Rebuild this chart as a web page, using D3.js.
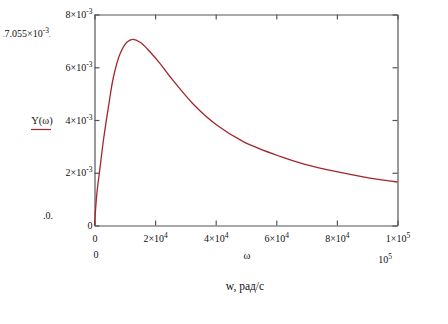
<!DOCTYPE html>
<html>
<head>
<meta charset="utf-8">
<script src="https://cdn.jsdelivr.net/npm/d3@7"></script>
<style>
  body { margin: 0; background: #fff; }
  svg text { font-family: "Liberation Serif", "Times New Roman", serif; fill: #111; }
</style>
</head>
<body>
<script>
// values: omega (rad/s) and Y(omega)
const omega = [0, 800, 1880, 2970, 4610, 6260, 8470, 10680, 12660, 15060, 18360, 21660,
  24950, 32630, 40340, 49110, 61210, 68890, 79890, 90870, 100000];
const yValues = [0, 1.23e-3, 2.24e-3, 3.25e-3, 4.50e-3, 5.63e-3, 6.52e-3, 6.95e-3, 7.055e-3,
  6.95e-3, 6.58e-3, 6.14e-3, 5.64e-3, 4.60e-3, 3.81e-3, 3.18e-3, 2.62e-3, 2.34e-3,
  2.04e-3, 1.80e-3, 1.65e-3];

const xTicks = [0, 2e4, 4e4, 6e4, 8e4, 1e5];
const xTickLabels = [["0", ""], ["2×10", "4"], ["4×10", "4"], ["6×10", "4"], ["8×10", "4"], ["1×10", "5"]];
const yTicks = [0, 2e-3, 4e-3, 6e-3, 8e-3];
const yTickLabels = [["0", ""], ["2×10", "-3"], ["4×10", "-3"], ["6×10", "-3"], ["8×10", "-3"]];

const width = 448, height = 324;
const marginLeft = 94.5, marginRight = 50.5, marginTop = 14.5, marginBottom = 98.5;

const data = omega.map((w, i) => ({w: w, y: yValues[i]}));

const x = d3.scaleLinear()
    .domain([0, 1e5])
    .range([marginLeft, width - marginRight]);

const y = d3.scaleLinear()
    .domain([0, 8e-3])
    .range([height - marginBottom, marginTop]);

const svg = d3.select("body").append("svg")
    .attr("width", width)
    .attr("height", height);

// put "mantissa×10" + superscript into a tick label
function supLabel(sel, labels) {
  sel.each(function(d, i) {
    const t = d3.select(this).text(null);
    t.append("tspan").text(labels[i][0]);
    if (labels[i][1]) {
      t.append("tspan").attr("dy", -4).attr("font-size", 7.5).text(labels[i][1]);
    }
  });
}

function styleAxis(g) {
  g.attr("font-family", null);
  g.select(".domain").attr("stroke", "#555").attr("stroke-width", 1.2);
  g.selectAll(".tick line").attr("stroke", "#555").attr("stroke-width", 1.2);
  g.selectAll("text").attr("font-size", 10).attr("fill", "#111");
}

// bottom
const gx = svg.append("g")
    .attr("transform", `translate(0,${height - marginBottom})`)
    .call(d3.axisBottom(x).tickValues(xTicks).tickSizeInner(-5).tickSizeOuter(0).tickPadding(9))
    .call(styleAxis);
gx.selectAll(".tick text").call(supLabel, xTickLabels);

// top
svg.append("g")
    .attr("transform", `translate(0,${marginTop})`)
    .call(d3.axisTop(x).tickValues(xTicks).tickSizeInner(-5).tickSizeOuter(0).tickFormat(""))
    .call(styleAxis);

// left
const gy = svg.append("g")
    .attr("transform", `translate(${marginLeft},0)`)
    .call(d3.axisLeft(y).tickValues(yTicks).tickSizeInner(-5).tickSizeOuter(0).tickPadding(2))
    .call(styleAxis);
gy.selectAll(".tick text").call(supLabel, yTickLabels);

// right
svg.append("g")
    .attr("transform", `translate(${width - marginRight},0)`)
    .call(d3.axisRight(y).tickValues(yTicks).tickSizeInner(-5).tickSizeOuter(0).tickFormat(""))
    .call(styleAxis);

// curve
svg.append("path")
    .datum(data)
    .attr("fill", "none")
    .attr("stroke", "#a3262e")
    .attr("stroke-width", 1.3)
    .attr("d", d3.line()
        .x(d => x(d.w))
        .y(d => y(d.y))
        .curve(d3.curveCatmullRom.alpha(0.5)));

// left-side labels (max value, legend, min value)
const maxLbl = svg.append("text").attr("x", 3).attr("y", 37).attr("font-size", 10);
maxLbl.append("tspan").attr("font-size", 6).text(".");
maxLbl.append("tspan").text("7.055×10");
maxLbl.append("tspan").attr("dy", -4).attr("font-size", 7.5).text("-3");
maxLbl.append("tspan").attr("dy", 4).attr("font-size", 6).text(".");

svg.append("text")
    .attr("x", 42).attr("y", 124)
    .attr("text-anchor", "middle")
    .attr("font-size", 10.5)
    .text("Y(ω)");
svg.append("line")
    .attr("x1", 31).attr("x2", 51)
    .attr("y1", 129.5).attr("y2", 129.5)
    .attr("stroke", "#a3262e").attr("stroke-width", 1.2);

svg.append("text")
    .attr("x", 48).attr("y", 219)
    .attr("text-anchor", "middle")
    .attr("font-size", 10)
    .text(".0.");

// x range labels under the axis
svg.append("text").attr("x", 96).attr("y", 258).attr("text-anchor", "middle").attr("font-size", 10).text("0");
svg.append("text").attr("x", 247).attr("y", 259).attr("text-anchor", "middle").attr("font-size", 10.5).text("ω");
const maxX = svg.append("text").attr("x", 385).attr("y", 263).attr("text-anchor", "middle").attr("font-size", 10);
maxX.append("tspan").text("10");
maxX.append("tspan").attr("dy", -4).attr("font-size", 7.5).text("5");

svg.append("text")
    .attr("x", 245).attr("y", 290)
    .attr("text-anchor", "middle")
    .attr("font-size", 11.5)
    .text("w, рад/с");
</script>
</body>
</html>
